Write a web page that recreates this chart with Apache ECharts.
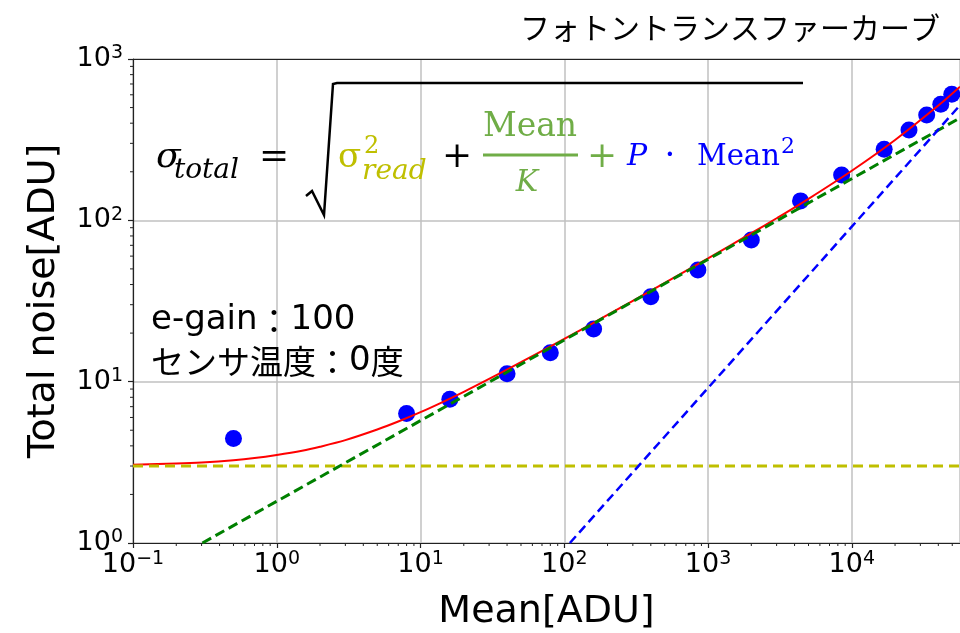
<!DOCTYPE html>
<html>
<head>
<meta charset="utf-8">
<script src="https://cdn.jsdelivr.net/npm/echarts@6/dist/echarts.min.js"></script>
<style>html,body{margin:0;padding:0;background:#fff}#c{width:960px;height:633px}</style>
</head>
<body>
<div id="c"></div>
<script>
// ---- data ----
const meanADU    = [0.5, 8, 16, 40, 80, 160, 400, 850, 2000, 4400, 8500, 16800, 25000, 33200, 41600, 49600];
const totalNoise = [4.44, 6.35, 7.79, 11.2, 15.1, 21.2, 33.6, 49.2, 75.5, 132, 191, 276, 363, 450, 525, 605];

// fitted model lines
const readNoiseX = [0.1, 56600];
const readNoiseY = [3, 3];
const shotNoiseX = [0.304, 56600];
const shotNoiseY = [1, 431];
const prnuX      = [109.4, 56600];
const prnuY      = [1, 517];
const totalFitX  = [0.1, 0.2, 0.3, 0.5, 0.7, 1, 1.5, 2, 3, 5, 7, 10, 14, 20, 30, 50, 100, 200, 300, 500, 1000, 2000, 3000, 5000, 10000, 20000, 40000, 56600];
const totalFitY  = [3.05, 3.11, 3.16, 3.26, 3.36, 3.51, 3.73, 3.95, 4.34, 5.05, 5.66, 6.47, 7.42, 8.65, 10.4, 13.2, 18.4, 25.9, 31.7, 40.9, 58.2, 83.2, 103, 136, 203, 315, 515, 674];

const xMin = 0.1, xMax = 56600, yMin = 1, yMax = 1000;
const xTitle = 'Mean[ADU]';
const yTitle = 'Total noise[ADU]';
const chartTitle = 'フォトントランスファーカーブ';

function zip(a, b) { return a.map((v, i) => [v, b[i]]); }

// minor ticks of a log axis (2..9 per decade)
function minorTicks(lo, hi) {
  const out = [];
  for (let e = Math.floor(Math.log10(lo)); e <= Math.ceil(Math.log10(hi)); e++) {
    for (let m = 2; m <= 9; m++) {
      const v = m * Math.pow(10, e);
      if (v > lo && v < hi) out.push(v);
    }
  }
  return out;
}
const minorData = minorTicks(xMin, xMax).map(v => [v, yMin, 0])
  .concat(minorTicks(yMin, yMax).map(v => [xMin, v, 1]));

function powLabel(v) {
  const e = Math.round(Math.log10(v));
  if (Math.abs(v - Math.pow(10, e)) > 1e-6 * v) return '';
  const s = e < 0 ? '\u2212' + (-e) : '' + e;
  return '{b|10}{s|' + s + '}';
}
const labelRich = {
  b: { fontSize: 27, fontFamily: 'DejaVu Sans', color: '#000', lineHeight: 30 },
  s: { fontSize: 19, fontFamily: 'DejaVu Sans', color: '#000', lineHeight: 20, verticalAlign: 'top' }
};

const axisCol = '#222';
const chart = echarts.init(document.getElementById('c'), null, { renderer: 'canvas' });

const serif = 'DejaVu Serif';
function txt(x, y, text, size, color, opts) {
  opts = opts || {};
  return {
    type: 'text', x: x, y: y, z: 100,
    style: Object.assign({
      text: text, fontSize: size, fontFamily: serif, fill: color,
      align: 'left', verticalAlign: 'middle'
    }, opts)
  };
}
const noteRich = {
  l: { fontSize: 34, fontFamily: 'DejaVu Sans', color: '#000' },
  j: { fontSize: 33, fontFamily: 'Noto Sans CJK JP', color: '#000' }
};
const yellow = '#bfbf00', green = '#70ad47', blue = '#0000ff';

chart.setOption({
  animation: false,
  backgroundColor: '#fff',
  grid: { left: 133, top: 59, right: 0, bottom: 90, containLabel: false, outerBoundsMode: 'none' },
  xAxis: [{
    type: 'log', logBase: 10, min: xMin, max: xMax,
    name: xTitle, nameLocation: 'middle', nameGap: 50,
    nameTextStyle: { fontSize: 38, fontFamily: 'DejaVu Sans', color: '#000' },
    axisLine: { show: true, lineStyle: { color: axisCol, width: 1.2 } },
    axisTick: { show: true, inside: false, length: 5, lineStyle: { color: axisCol, width: 1.2 } },
    axisLabel: { margin: 7, formatter: powLabel, rich: labelRich, showMaxLabel: false },
    splitLine: { show: true, lineStyle: { color: '#c0c0c0', width: 1.5 } },
    minorTick: { show: false }
  }, {
    type: 'log', logBase: 10, min: xMin, max: xMax, position: 'top',
    axisLine: { show: true, lineStyle: { color: axisCol, width: 1.2 } },
    axisTick: { show: false }, axisLabel: { show: false }, splitLine: { show: false }
  }],
  yAxis: {
    type: 'log', logBase: 10, min: yMin, max: yMax,
    name: yTitle, nameLocation: 'middle', nameGap: 70, nameRotate: 90,
    nameTextStyle: { fontSize: 38, fontFamily: 'DejaVu Sans', color: '#000' },
    axisLine: { show: true, lineStyle: { color: axisCol, width: 1.2 } },
    axisTick: { show: true, inside: false, length: 5, lineStyle: { color: axisCol, width: 1.2 } },
    axisLabel: { margin: 10, formatter: powLabel, rich: labelRich },
    splitLine: { show: true, lineStyle: { color: '#c0c0c0', width: 1.5 } }
  },
  series: [
    {
      type: 'custom', name: 'minor', silent: true, xAxisIndex: 0, yAxisIndex: 0,
      data: minorData, z: 5,
      renderItem: function (params, api) {
        const kind = api.value(2);
        if (kind === 0) {
          const p = api.coord([api.value(0), yMin]);
          return { type: 'line', shape: { x1: p[0], y1: p[1], x2: p[0], y2: p[1] + 3 }, style: { stroke: axisCol, lineWidth: 1 } };
        }
        const p = api.coord([xMin, api.value(1)]);
        return { type: 'line', shape: { x1: p[0] - 3, y1: p[1], x2: p[0], y2: p[1] }, style: { stroke: axisCol, lineWidth: 1 } };
      }
    },
    {
      type: 'scatter', name: 'measured', data: zip(meanADU, totalNoise),
      symbol: 'circle', symbolSize: 17, itemStyle: { color: blue, opacity: 1 }, z: 2
    },
    {
      type: 'line', name: 'total', data: zip(totalFitX, totalFitY), smooth: 0.3,
      showSymbol: false, symbol: 'none', lineStyle: { color: '#ff0000', width: 2 }, z: 3
    },
    {
      type: 'line', name: 'read', data: zip(readNoiseX, readNoiseY),
      showSymbol: false, symbol: 'none', lineStyle: { color: yellow, width: 3, type: [10, 6] }, z: 4
    },
    {
      type: 'line', name: 'shot', data: zip(shotNoiseX, shotNoiseY),
      showSymbol: false, symbol: 'none', lineStyle: { color: '#008000', width: 3, type: [10, 5] }, z: 4
    },
    {
      type: 'line', name: 'prnu', data: zip(prnuX, prnuY),
      showSymbol: false, symbol: 'none', lineStyle: { color: blue, width: 2.5, type: [9, 5] }, z: 4
    }
  ],
  graphic: [
    txt(730, 28, chartTitle, 30, '#000', { align: 'center', fontFamily: 'Noto Sans CJK JP' }),
    { type: 'text', x: 151, y: 320, z: 100,
      style: { text: '{l|e-gain}{j|：}{l|100}', rich: noteRich, align: 'left', verticalAlign: 'middle' } },
    { type: 'text', x: 151, y: 361, z: 100,
      style: { text: '{j|センサ温度：}{l|0}{j|度}', rich: noteRich, align: 'left', verticalAlign: 'middle' } },
    // formula
    txt(156, 158, 'σ', 36, '#000', { fontStyle: 'italic' }),
    txt(174, 171, 'total', 28, '#000', { fontStyle: 'italic' }),
    txt(259, 158, '=', 36, '#000'),
    {
      type: 'polyline', z: 100,
      shape: { points: [[306, 196], [312, 191], [324, 215], [333, 84], [337, 83], [803, 83]] },
      style: { stroke: '#000', lineWidth: 2.5, fill: null }
    },
    txt(338, 158, 'σ', 34, yellow),
    txt(364, 147, '2', 24, yellow),
    txt(362, 172, 'read', 28, yellow, { fontStyle: 'italic' }),
    txt(457, 158, '+', 36, '#000', { align: 'center' }),
    txt(530, 127, 'Mean', 33, green, { align: 'center' }),
    { type: 'line', z: 100, shape: { x1: 483, y1: 155, x2: 578, y2: 155 }, style: { stroke: green, lineWidth: 3 } },
    txt(527, 183, 'K', 30, green, { align: 'center', fontStyle: 'italic' }),
    txt(602, 158, '+', 36, green, { align: 'center' }),
    txt(627, 157, 'P', 30, blue, { fontStyle: 'italic' }),
    txt(670, 157, '·', 34, blue, { align: 'center' }),
    txt(697, 157, 'Mean', 29, blue),
    txt(781, 147, '2', 22, blue)
  ]
});
</script>
</body>
</html>
